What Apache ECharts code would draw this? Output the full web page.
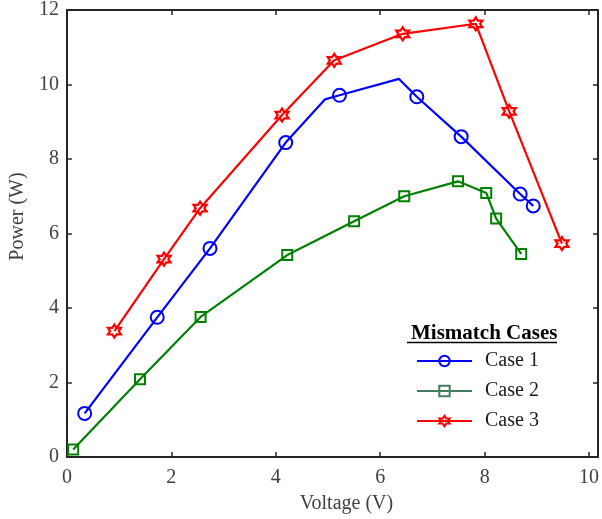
<!DOCTYPE html>
<html>
<head>
<meta charset="utf-8">
<script src="https://cdn.jsdelivr.net/npm/echarts@6/dist/echarts.min.js"></script>
<style>
  html, body { margin: 0; padding: 0; background: #fff; }
  #chart { width: 602px; height: 519px; }
</style>
</head>
<body>
<div id="chart"></div>
<script>
  // data
  var case1X = [0.34, 1.73, 2.74, 4.19, 4.94, 5.22, 6.36, 6.70, 7.55, 8.68, 8.93];
  var case1Y = [1.17, 3.75, 5.60, 8.44, 9.60, 9.71, 10.15, 9.67, 8.60, 7.06, 6.74];
  var case1NoMark = [4, 6]; // points on the line without a marker

  var case2X = [0.12, 1.40, 2.56, 4.22, 5.50, 6.46, 7.49, 8.03, 8.22, 8.70];
  var case2Y = [0.20, 2.09, 3.76, 5.42, 6.33, 7.00, 7.40, 7.09, 6.40, 5.45];

  var case3X = [0.91, 1.86, 2.55, 4.12, 5.12, 6.43, 7.83, 8.47, 9.48];
  var case3Y = [3.38, 5.31, 6.68, 9.18, 10.65, 11.36, 11.63, 9.28, 5.73];

  var seriesNames = ['Case 1', 'Case 2', 'Case 3'];
  var legendTitle = 'Mismatch Cases';

  var serif = '"Liberation Serif", "DejaVu Serif", serif';
  var hexagram = 'path://M0,-10 L2.887,-5 L8.66,-5 L5.77,0 L8.66,5 L2.887,5 L0,10 L-2.887,5 L-8.66,5 L-5.77,0 L-8.66,-5 L-2.887,-5 Z';

  function pairs(xs, ys, noMark) {
    var out = [];
    for (var i = 0; i < xs.length; i++) {
      if (noMark && noMark.indexOf(i) >= 0) {
        out.push({ value: [xs[i], ys[i]], symbol: 'none' });
      } else {
        out.push([xs[i], ys[i]]);
      }
    }
    return out;
  }

  var axisLine = { show: true, onZero: false, lineStyle: { color: '#262626', width: 2 } };
  var axisTick = { show: true, inside: true, length: 5, lineStyle: { color: '#262626', width: 1.5 } };

  var chartObj = echarts.init(document.getElementById('chart'));
  var option = {
    animation: false,
    title: {
      text: legendTitle,
      left: 406,
      top: 318,
      textStyle: { fontFamily: serif, fontWeight: 'bold', fontSize: 21, color: '#000' }
    },
    legend: {
      orient: 'vertical',
      left: 411,
      top: 346,
      itemWidth: 55,
      itemHeight: 13,
      itemGap: 10,
      textStyle: { fontFamily: serif, fontSize: 20, color: '#1a1a1a', lineHeight: 20, padding: [0, 0, 0, 8] },
      data: [
        { name: 'Case 1' },
        { name: 'Case 2', lineStyle: { color: '#3f7f5f' }, itemStyle: { borderColor: '#3f7f5f' } },
        { name: 'Case 3' }
      ]
    },
    graphic: [{
      type: 'line',
      shape: { x1: 407, y1: 342.5, x2: 557, y2: 342.5 },
      style: { stroke: '#000', lineWidth: 1.5 }
    }],
    grid: { left: 61, right: 3, top: 10, bottom: 59 },
    xAxis: [{
      type: 'value',
      min: 0,
      max: 10.17,
      interval: 2,
      name: 'Voltage (V)',
      nameLocation: 'middle',
      nameGap: 37,
      nameTextStyle: { fontFamily: serif, fontSize: 20, color: '#404040', padding: [0, 0, 0, 28] },
      axisLine: axisLine,
      axisTick: axisTick,
      splitLine: { show: false },
      axisLabel: { fontFamily: serif, fontSize: 20, color: '#404040', margin: 11, showMaxLabel: false }
    }, {
      type: 'value',
      position: 'top',
      min: 0,
      max: 10.17,
      interval: 2,
      axisLine: axisLine,
      axisTick: axisTick,
      splitLine: { show: false },
      axisLabel: { show: false }
    }],
    yAxis: [{
      type: 'value',
      min: 0,
      max: 12,
      interval: 2,
      name: 'Power (W)',
      nameLocation: 'middle',
      nameGap: 24,
      nameTextStyle: { fontFamily: serif, fontSize: 20, color: '#404040', padding: [0, 0, 0, 34] },
      axisLine: axisLine,
      axisTick: axisTick,
      splitLine: { show: false },
      axisLabel: { fontFamily: serif, fontSize: 20, color: '#404040', margin: 8 }
    }, {
      type: 'value',
      position: 'right',
      min: 0,
      max: 12,
      interval: 2,
      axisLine: axisLine,
      axisTick: axisTick,
      splitLine: { show: false },
      axisLabel: { show: false }
    }],
    series: [{
      name: seriesNames[0],
      type: 'line',
      color: '#0000ff',
      symbol: 'circle',
      symbolSize: 13,
      lineStyle: { color: '#0000ff', width: 2.2 },
      itemStyle: { color: 'transparent', borderColor: '#0000ff', borderWidth: 2 },
      data: pairs(case1X, case1Y, case1NoMark)
    }, {
      name: seriesNames[1],
      type: 'line',
      color: '#008000',
      symbol: 'rect',
      symbolSize: 10,
      lineStyle: { color: '#008000', width: 2.2 },
      itemStyle: { color: 'transparent', borderColor: '#008000', borderWidth: 2 },
      data: pairs(case2X, case2Y)
    }, {
      name: seriesNames[2],
      type: 'line',
      color: '#ff0000',
      symbol: hexagram,
      symbolSize: 13,
      lineStyle: { color: '#ff0000', width: 2.2 },
      itemStyle: { color: 'transparent', borderColor: '#ff0000', borderWidth: 2.2 },
      data: pairs(case3X, case3Y)
    }]
  };
  chartObj.setOption(option, true);
</script>
</body>
</html>
